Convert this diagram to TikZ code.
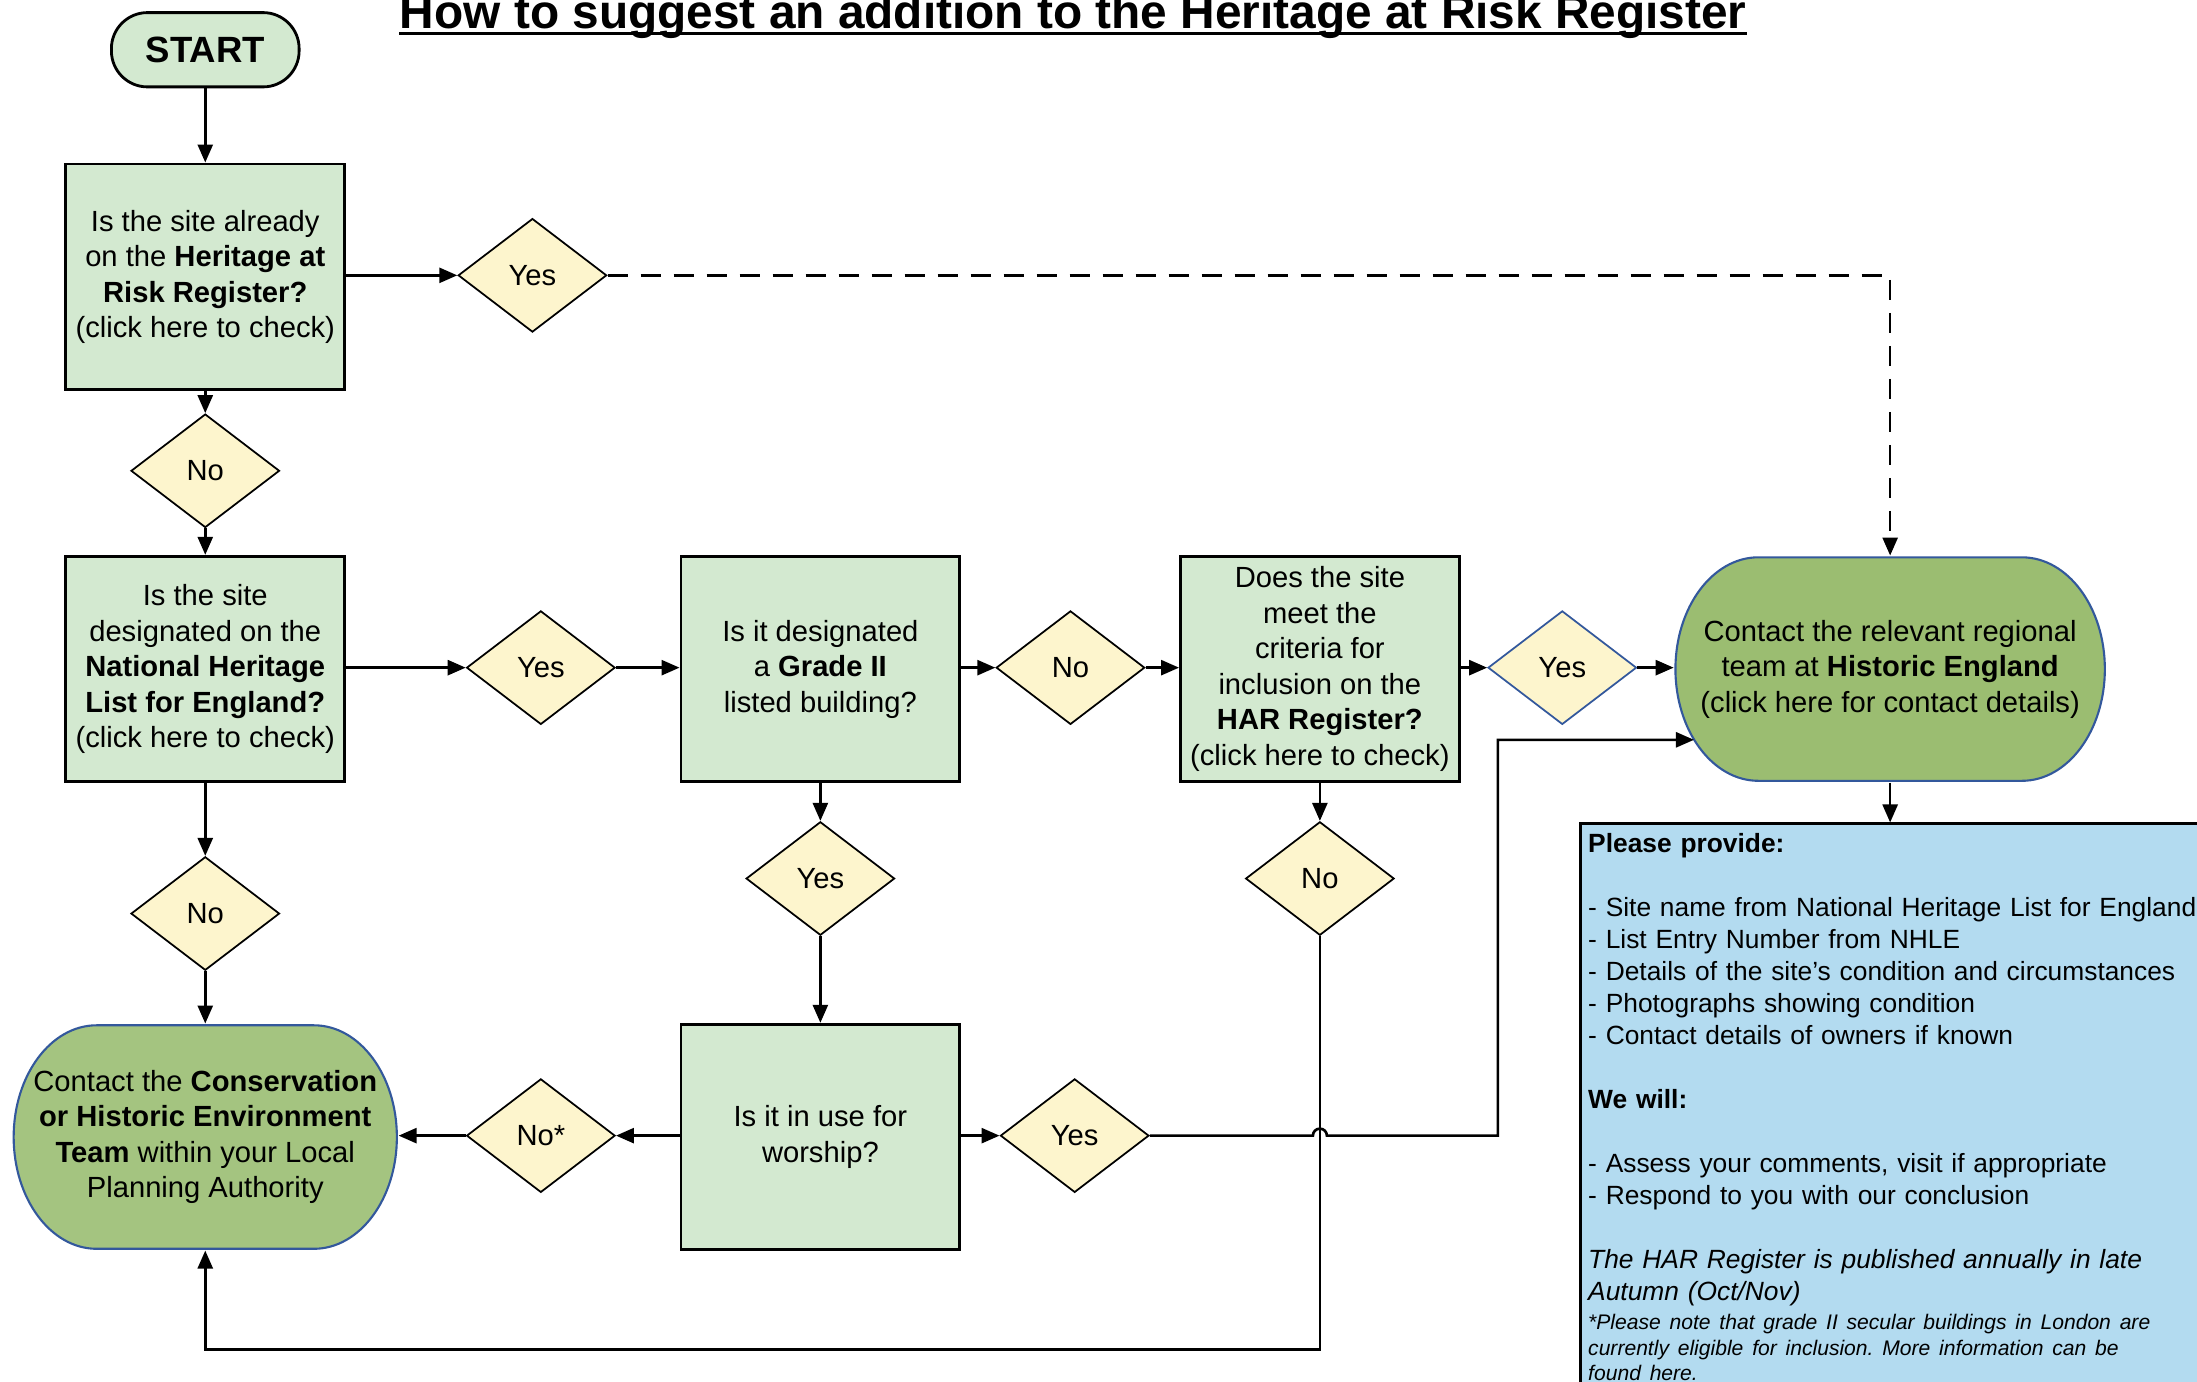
\documentclass[tikz,border=0pt]{standalone}
\usepackage{fontspec}
\setmainfont{Liberation Sans}
\usepackage{tikz}
\usetikzlibrary{shapes,% diamonds
arrows.meta}%            triangle tips
\frenchspacing
\definecolor{qgreen}{RGB}{211,233,208}
\definecolor{ayellow}{RGB}{253,245,205}
\definecolor{hegreen}{RGB}{155,189,113}
\definecolor{lpagreen}{RGB}{164,196,128}
\definecolor{termblue}{RGB}{51,88,156}
\definecolor{infoblue}{RGB}{179,219,240}
\tikzset{every node/.style={font=\fontsize{8.3}{10.1}\selectfont}}
\tikzset{
  heading/.style={anchor=base, inner sep=0pt, font=\fontsize{13.6}{16}\selectfont\bfseries},
  startbox/.style={rectangle, rounded corners=3.6mm, draw, line width=0.8pt, fill=qgreen,
    minimum width=18.77mm, minimum height=7.43mm, font=\fontsize{10.4}{12}\selectfont\bfseries},
  question/.style={rectangle, draw, line width=0.8pt, fill=qgreen, align=center,
    minimum width=27.88mm, minimum height=22.56mm, inner sep=1pt},
  answer/.style={diamond, draw, line width=0.5pt, fill=ayellow,
    minimum width=14.85mm, minimum height=11.35mm, inner sep=0pt},
  terminal/.style={rectangle, align=center, minimum height=22.56mm, inner sep=1pt,
    path picture={
      \filldraw[fill=#1, draw=termblue, line width=0.6pt]
        ([shift={(8.4mm,-0.3pt)}]path picture bounding box.north west)
        -- ([shift={(-8.4mm,-0.3pt)}]path picture bounding box.north east)
        arc[start angle=90, end angle=-90, x radius=8.4mm-0.3pt, y radius=11.28mm-0.3pt]
        -- ([shift={(8.4mm,0.3pt)}]path picture bounding box.south west)
        arc[start angle=270, end angle=90, x radius=8.4mm-0.3pt, y radius=11.28mm-0.3pt]
        -- cycle;
    }},
  infobox/.style={rectangle, draw, line width=0.8pt, fill=infoblue,
    minimum width=70mm, minimum height=60mm, inner sep=0pt},
  infotext/.style={text width=70mm, align=left, inner sep=0pt, font=\fontsize{7.5}{9.1}\selectfont},
  flow/.style={line width=0.75pt, -{Triangle[length=1.8mm, width=1.5mm]}}
}

\begin{document}
\begin{tikzpicture}[x=0.14011mm, y=-0.14011mm]
  % \draw[step=100,gray,ultra thin] (0,0) grid (1568,986);
  \useasboundingbox (0,0) rectangle (1568,986);

  \node[heading] (title) at (766,20) {How to suggest an addition to the Heritage at Risk Register};
  \draw[line width=0.9pt] ([yshift=-1.6pt]title.base west) -- ([yshift=-1.6pt]title.base east);

  \node[startbox] (start) at (146.5,35.5) {START};
  \node[question] (onhar) at (146.5,197.5) {Is the site already\\ on the \textbf{Heritage at}\\ \textbf{Risk Register?}\\ (click here to check)};
  \node[answer] (onharyes) at (380,196.5) {Yes};
  \node[answer] (onharno) at (146.5,336) {No};

  \node[question] (nhle) at (146.5,477.5) {Is the site\\ designated on the\\ \textbf{National Heritage}\\ \textbf{List for England?}\\ (click here to check)};
  \node[answer] (nhleyes) at (386,476.5) {Yes};
  \node[answer] (nhleno) at (146.5,652) {No};

  \node[question] (grade) at (585.5,477.5) {Is it designated\\ a \textbf{Grade II}\\ listed building?};
  \node[answer] (gradeno) at (764,476.5) {No};
  \node[answer] (gradeyes) at (585.5,627) {Yes};

  \node[question] (criteria) at (942,477.5) {Does the site\\ meet the\\ criteria for\\ inclusion on the\\ \textbf{HAR Register?}\\ (click here to check)};
  \node[answer, draw=termblue] (criteriayes) at (1115,476.5) {Yes};
  \node[answer] (criteriano) at (942,627) {No};

  \node[question] (worship) at (585.5,811.5) {Is it in use for\\ worship?};
  \node[answer] (worshipno) at (386,810.5) {No*};
  \node[answer] (worshipyes) at (767,810.5) {Yes};

  \node[terminal=hegreen, minimum width=43.15mm] (he) at (1349,477.5) {Contact the relevant regional\\ team at \textbf{Historic England}\\ (click here for contact details)};
  \node[terminal=lpagreen, minimum width=38.53mm] (lpa) at (146.5,811.5) {Contact the \textbf{Conservation}\\ \textbf{or Historic Environment}\\ \textbf{Team} within your Local\\ Planning Authority};

  \node[infobox, anchor=north west] (info) at (1127,587) {};
  \node[infotext, anchor=north west] (infonotes) at (1133,594.4) {\textbf{Please provide:}\\[9.1pt]
    - Site name from National Heritage List for England\\
    - List Entry Number from NHLE\\
    - Details of the site’s condition and circumstances\\
    - Photographs showing condition\\
    - Contact details of owners if known\\[9.1pt]
    \textbf{We will:}\\[9.1pt]
    - Assess your comments, visit if appropriate\\
    - Respond to you with our conclusion\\[9.1pt]
    \textit{The HAR Register is published annually in late}\\
    \textit{Autumn (Oct/Nov)}\par\vspace{1.2pt}
    {\fontsize{6}{7.2}\selectfont\itshape *Please note that grade II secular buildings in London are\\
    currently eligible for inclusion. More information can be\\ found here.\par}};

  \coordinate (hein) at (1209,528);
  \coordinate (jog) at (1069,528);
  \coordinate (hop) at (942,810.5);
  \coordinate (bend) at (942,963);

  \draw[flow] (start.south) -- (onhar.north);
  \draw[flow] (onhar.east |- onharyes.west) -- (onharyes.west);
  \draw[flow, dash pattern=on 2mm off 1.3mm] (onharyes.east) -| (he.north);
  \draw[flow] (onhar.south) -- (onharno.north);
  \draw[flow] (onharno.south) -- (nhle.north);

  \draw[flow] (nhle.east |- nhleyes.west) -- (nhleyes.west);
  \draw[flow] (nhleyes.east) -- (grade.west |- nhleyes.east);
  \draw[flow] (grade.east |- gradeno.west) -- (gradeno.west);
  \draw[flow] (gradeno.east) -- (criteria.west |- gradeno.east);
  \draw[flow] (criteria.east |- criteriayes.west) -- (criteriayes.west);
  \draw[flow] (criteriayes.east) -- (he.west |- criteriayes.east);
  \draw[flow] (he.south) -- (he.south |- info.north);

  \draw[flow] (nhle.south) -- (nhleno.north);
  \draw[flow] (nhleno.south) -- (lpa.north);
  \draw[flow] (grade.south) -- (gradeyes.north);
  \draw[flow] (gradeyes.south) -- (worship.north);
  \draw[flow] (criteria.south) -- (criteriano.north);
  \draw[flow] (criteriano.south) -- (bend) -| (lpa.south);

  \draw[flow] (worship.west |- worshipno.east) -- (worshipno.east);
  \draw[flow] (worshipno.west) -- (lpa.east |- worshipno.west);
  \draw[flow] (worship.east |- worshipyes.west) -- (worshipyes.west);
  \draw[flow] (worshipyes.east) -- ([xshift=-0.7mm]hop) arc[start angle=180, end angle=0, radius=0.7mm] -| (jog) -- (hein);
\end{tikzpicture}
\end{document}
